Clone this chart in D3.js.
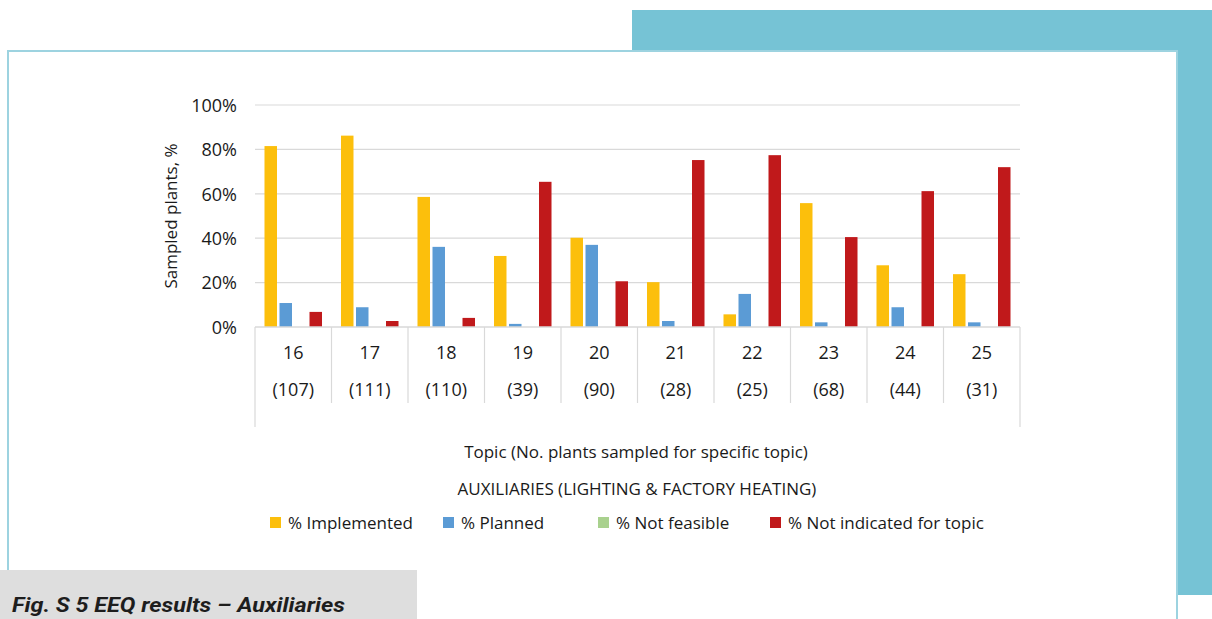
<!DOCTYPE html>
<html>
<head>
<meta charset="utf-8">
<script src="https://cdn.jsdelivr.net/npm/d3@7"></script>
<style>
  html, body { margin: 0; padding: 0; background: #fff; }
  svg { display: block; }
  .t { font-family: 'Open Sans', sans-serif; fill: #1a1a1a; }
</style>
</head>
<body>
<svg id="chart" width="1212" height="619"></svg>
<script>
// ---- data ----
const categories = ["16", "17", "18", "19", "20", "21", "22", "23", "24", "25"];
const sampleSizes = ["(107)", "(111)", "(110)", "(39)", "(90)", "(28)", "(25)", "(68)", "(44)", "(31)"];
const seriesNames = ["% Implemented", "% Planned", "% Not feasible", "% Not indicated for topic"];
const implemented  = [81.5, 86.2, 58.6, 32.0, 40.2, 20.2, 5.7, 55.8, 27.8, 23.8];
const planned      = [10.8, 8.9, 36.1, 1.4, 37.0, 2.7, 14.9, 2.1, 8.9, 2.1];
const notFeasible  = [0, 0, 0, 0, 0, 0, 0, 0, 0, 0];
const notIndicated = [6.8, 2.7, 4.1, 65.4, 20.6, 75.2, 77.4, 40.5, 61.2, 72.0];
const yTicks = [0, 20, 40, 60, 80, 100];
const colors = ["#fcbf0c", "#5b9bd5", "#a9d18e", "#c0191b"];

const seriesValues = [implemented, planned, notFeasible, notIndicated];

const svg = d3.select("#chart");

// ---- page decoration ----
svg.append("rect").attr("x", 632).attr("y", 10).attr("width", 580).attr("height", 585).attr("fill", "#76c3d5");
svg.append("rect").attr("x", 8).attr("y", 51).attr("width", 1169).attr("height", 600)
  .attr("fill", "#fff").attr("stroke", "#9dd3e0").attr("stroke-width", 2);

// caption box
svg.append("rect").attr("x", 0).attr("y", 570).attr("width", 417).attr("height", 49).attr("fill", "#dedede");
svg.append("text").attr("x", 12).attr("y", 612)
  .attr("textLength", 333).attr("lengthAdjust", "spacingAndGlyphs")
  .style("font-family", "'Roboto', 'Open Sans', sans-serif")
  .style("font-weight", "700").style("font-style", "italic").style("font-size", "21px")
  .style("fill", "#1d1d1d")
  .text("Fig. S 5 EEQ results – Auxiliaries");

// ---- scales ----
const x0 = d3.scaleBand().domain(categories).range([255, 1020]).padding(0);
const x1 = d3.scaleBand().domain(seriesNames).range([0, x0.bandwidth()]).paddingInner(1/6).paddingOuter(0.633);
const y = d3.scaleLinear().domain([0, 100]).range([327, 105]);

// gridlines
const g = svg.append("g");
g.selectAll("line.grid").data(yTicks.filter(d => d > 0)).enter().append("line")
  .attr("x1", 255).attr("x2", 1020)
  .attr("y1", d => y(d)).attr("y2", d => y(d))
  .attr("stroke", "#d9d9d9").attr("stroke-width", 1.2);

// y axis labels via d3 axis
const yAxis = d3.axisLeft(y).tickValues(yTicks).tickFormat(d => d + "%").tickSize(0).tickPadding(18);
const ya = svg.append("g").attr("transform", "translate(255,0)").call(yAxis);
ya.select(".domain").remove();
ya.selectAll("text").attr("class", "t").style("font-size", "18px").attr("dy", "0.35em");

// bars
const data = [];
categories.forEach((c, i) => seriesNames.forEach((s, j) => data.push({ c, s, v: seriesValues[j][i], color: colors[j] })));
svg.append("g").selectAll("rect").data(data).enter().append("rect")
  .attr("x", d => x0(d.c) + x1(d.s))
  .attr("width", x1.bandwidth())
  .attr("y", d => y(d.v))
  .attr("height", d => y(0) - y(d.v))
  .attr("fill", d => d.color);

// x axis line (drawn over bars)
svg.append("line").attr("x1", 255).attr("x2", 1020).attr("y1", y(0)).attr("y2", y(0))
  .attr("stroke", "#d9d9d9").attr("stroke-width", 2).attr("opacity", 0.75);

// category separators
const seps = categories.map(c => x0(c)).concat([x0.range()[1]]);
svg.append("g").selectAll("line").data(seps).enter().append("line")
  .attr("x1", d => d).attr("x2", d => d)
  .attr("y1", y(0))
  .attr("y2", (d, i) => (i === 0 || i === seps.length - 1) ? 427 : 403)
  .attr("stroke", "#d9d9d9").attr("stroke-width", 1.2);

// category labels
const cl = svg.append("g");
cl.selectAll("text.cat").data(categories).enter().append("text")
  .attr("class", "t").attr("text-anchor", "middle")
  .attr("x", d => x0(d) + x0.bandwidth() / 2).attr("y", 359)
  .style("font-size", "18px").text(d => d);
cl.selectAll("text.n").data(sampleSizes).enter().append("text")
  .attr("class", "t").attr("text-anchor", "middle")
  .attr("x", (d, i) => x0(categories[i]) + x0.bandwidth() / 2).attr("y", 396)
  .style("font-size", "18px").text(d => d);

// y axis title
svg.append("text").attr("class", "t").attr("text-anchor", "middle")
  .attr("transform", "translate(177,216) rotate(-90)")
  .style("font-size", "17px").text("Sampled plants, %");

// x titles
svg.append("text").attr("class", "t").attr("text-anchor", "middle")
  .attr("x", 636).attr("y", 458).style("font-size", "17px")
  .text("Topic (No. plants sampled for specific topic)");
svg.append("text").attr("class", "t").attr("text-anchor", "middle")
  .attr("x", 637).attr("y", 495).style("font-size", "17px")
  .text("AUXILIARIES (LIGHTING & FACTORY HEATING)");

// legend
const legendX = [270, 443, 598, 770];
const lg = svg.append("g").selectAll("g").data(seriesNames).enter().append("g")
  .attr("transform", (d, i) => `translate(${legendX[i]},517)`);
lg.append("rect").attr("width", 11).attr("height", 11).attr("fill", (d, i) => colors[i]);
lg.append("text").attr("class", "t").attr("x", 18).attr("y", 12).style("font-size", "17px").text(d => d);
</script>
</body>
</html>
